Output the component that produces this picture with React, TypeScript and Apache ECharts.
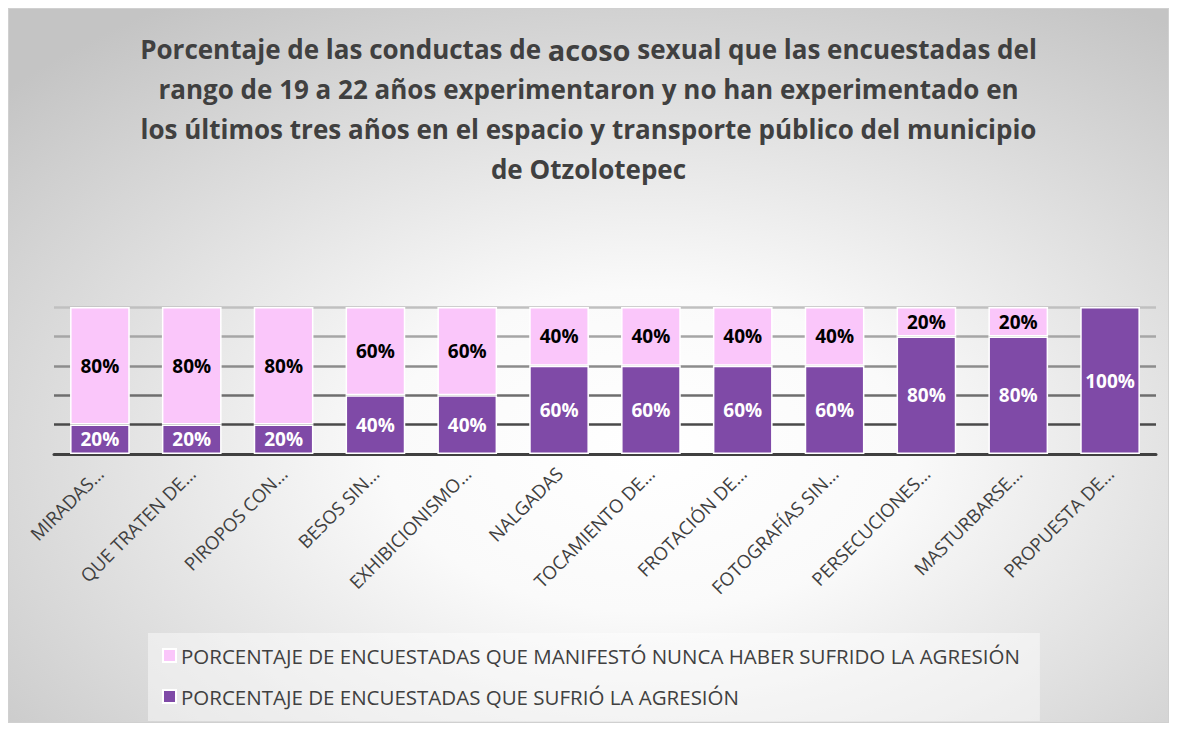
import React, { useEffect, useRef } from "react";
import * as echarts from "echarts";

const categories = [
  "MIRADAS…",
  "QUE TRATEN DE…",
  "PIROPOS CON…",
  "BESOS SIN…",
  "EXHIBICIONISMO…",
  "NALGADAS",
  "TOCAMIENTO DE…",
  "FROTACIÓN DE…",
  "FOTOGRAFÍAS SIN…",
  "PERSECUCIONES…",
  "MASTURBARSE…",
  "PROPUESTA DE…",
];
const sufrio = [20, 20, 20, 40, 40, 60, 60, 60, 60, 80, 80, 100];
const nunca = [80, 80, 80, 60, 60, 40, 40, 40, 40, 20, 20, 0];
const yTicks = [0, 20, 40, 60, 80, 100];

const nameNunca = "PORCENTAJE DE ENCUESTADAS QUE MANIFESTÓ NUNCA HABER SUFRIDO LA AGRESIÓN";
const nameSufrio = "PORCENTAJE DE ENCUESTADAS QUE SUFRIÓ LA AGRESIÓN";

const PURPLE = "#7f4aa7";
const PINK = "#fac6fa";
const FONT = "'Open Sans', 'Noto Sans', sans-serif";

export default function App() {
  const ref = useRef<HTMLDivElement>(null);
  useEffect(() => {
    if (!ref.current) return;
    const chart = echarts.init(ref.current, null, { renderer: "svg" });
    chart.setOption({
      animation: false,
      backgroundColor: new echarts.graphic.RadialGradient(0.55, 0.62, 0.75, [
        { offset: 0, color: "#ffffff" },
        { offset: 0.3, color: "#fafafa" },
        { offset: 1, color: "#c4c4c4" },
      ]),
      title: {
        left: "center",
        top: 15,
        text:
          "{t|Porcentaje de las conductas de }{a|acoso}{t| sexual que las encuestadas del}\n" +
          "{t|rango de 19 a 22 años experimentaron y no han experimentado en}\n" +
          "{t|los últimos tres años en el espacio y transporte público del municipio}\n" +
          "{t|de Otzolotepec}",
        textStyle: {
          rich: {
            t: {
              fontFamily: FONT,
              fontWeight: "bold",
              fontSize: 26,
              color: "#404040",
              lineHeight: 40,
            },
            a: {
              fontFamily: FONT,
              fontWeight: "bold",
              fontSize: 29,
              color: "#404040",
              lineHeight: 40,
            },
          },
        },
      },
      legend: {
        orient: "vertical",
        left: 139,
        top: 624,
        data: [nameNunca, nameSufrio],
        backgroundColor: "rgba(255,255,255,0.45)",
        padding: [12, 20, 14, 14],
        itemGap: 20,
        itemWidth: 13,
        itemHeight: 13,
        icon: "rect",
        textStyle: { fontFamily: FONT, fontSize: 20.5, color: "#404040" },
      },
      grid: { left: 45, right: 12, top: 298, bottom: 268 },
      xAxis: {
        type: "category",
        data: categories,
        axisLine: { lineStyle: { color: "#404040", width: 3 } },
        axisTick: { show: false },
        axisLabel: {
          rotate: 45,
          interval: 0,
          margin: 16,
          fontFamily: FONT,
          fontSize: 18.5,
          color: "#404040",
        },
      },
      yAxis: {
        type: "value",
        min: yTicks[0],
        max: yTicks[yTicks.length - 1],
        interval: 20,
        axisLabel: { show: false },
        axisLine: { show: false },
        axisTick: { show: false },
        splitLine: {
          lineStyle: {
            color: ["#404040", "#4a4a4a", "#6e6e6e", "#8c8c8c", "#a6a6a6", "#c0c0c0"],
            width: 2.5,
          },
        },
      },
      series: [
        {
          name: nameSufrio,
          type: "bar",
          stack: "total",
          data: sufrio,
          barWidth: "65%",
          itemStyle: { color: PURPLE, borderColor: "#ffffff", borderWidth: 1.5 },
          label: {
            show: true,
            position: "inside",
            formatter: "{c}%",
            fontFamily: FONT,
            fontWeight: "bold",
            fontSize: 19,
            color: "#ffffff",
          },
        },
        {
          name: nameNunca,
          type: "bar",
          stack: "total",
          data: nunca.map((v) => (v === 0 ? null : v)),
          barWidth: "65%",
          itemStyle: { color: PINK, borderColor: "#ffffff", borderWidth: 1.5 },
          label: {
            show: true,
            position: "inside",
            formatter: "{c}%",
            fontFamily: FONT,
            fontWeight: "bold",
            fontSize: 19,
            color: "#000000",
          },
        },
      ],
    });
    return () => chart.dispose();
  }, []);
  return (
    <div
      ref={ref}
      style={{ width: 1161, height: 715, border: "1px solid #d0d0d0", boxSizing: "border-box" }}
    />
  );
}
